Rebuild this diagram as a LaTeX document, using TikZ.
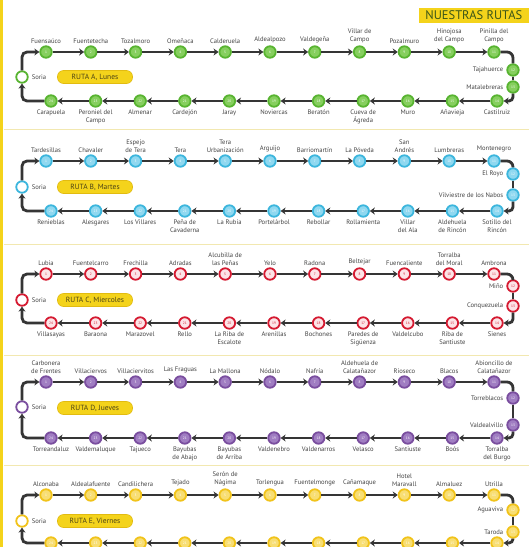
\documentclass[tikz,border=0pt]{standalone}
\usepackage{fontspec}
\setmainfont{PT Sans}
\usetikzlibrary{arrows.meta}
\definecolor{trackc}{HTML}{353535}
\definecolor{labc}{HTML}{444444}
\definecolor{ylw}{HTML}{F4D31B}
\definecolor{ylwd}{HTML}{E2BB10}
\definecolor{sepc}{HTML}{F2E8B0}
\definecolor{hdrtext}{HTML}{3A5518}
\definecolor{pilltext}{HTML}{4A4216}
\colorlet{rc}{black}\colorlet{rci}{white}\colorlet{rcn}{white}

\newcommand{\myroute}[6]{%
  \node[soriastop] (#1s) at (22,#3) {};
  \node[lbl,anchor=west] (#1sl) at ([xshift=3pt]#1s.east) {Soria};
  \foreach \i in {1,...,11}{\node[stop] (#1t\i) at ({46+44.8*(\i-1)},#2) {\i};}
  \node[stop] (#1r1) at (513,#5) {12};
  \node[stop] (#1r2) at (513,#6) {13};
  \foreach \i in {1,...,11}{\pgfmathtruncatemacro\nn{25-\i}\node[stop] (#1b\i) at ({51+44.6*(\i-1)},#4) {\nn};}
  \draw[track,arr,rounded corners=5pt] (#1s.north) |- (#1t1.west);
  \foreach \i in {1,...,10}{\pgfmathtruncatemacro\j{\i+1}\draw[track,arr] (#1t\i) -- (#1t\j);}
  \draw[track,rounded corners=6pt] (#1t11.east) -| (#1r1.north);
  \draw[track] (#1r1) -- (#1r2);
  \draw[track,arr,rounded corners=4pt] (#1r2.south) |- (#1b11.east);
  \foreach \i in {1,...,10}{\pgfmathtruncatemacro\j{\i+1}\draw[track,arr] (#1b\j) -- (#1b\i);}
  \draw[track,arr,rounded corners=5pt] (#1b1.west) -| (#1s.south);
}
\newcommand{\toplabels}[2]{\foreach \txt [count=\i] in {#2}{\node[lbl,anchor=south] (#1tl\i) at ([yshift=2pt]#1t\i.north) {\txt};}}
\newcommand{\rightlabels}[2]{\foreach \txt [count=\i] in {#2}{\node[lbl,anchor=east] (#1rl\i) at ([xshift=-3pt]#1r\i.west) {\txt};}}
\newcommand{\botlabels}[2]{\foreach \txt [count=\i] in {#2}{\node[lbl,anchor=north] (#1bl\i) at ([yshift=-2pt]#1b\i.south) {\txt};}}

\begin{document}
\begin{tikzpicture}[x=1pt,y=-1pt,
  stop/.style={circle,minimum size=11.5pt,inner sep=0pt,line width=1.8pt,draw=rc,fill=rci,text=rcn,font=\fontsize{3.5}{3.5}\selectfont},
  soriastop/.style={circle,minimum size=11.5pt,inner sep=0pt,line width=1.8pt,draw=rc,fill=white},
  lbl/.style={font=\fontsize{6.6}{7.9}\selectfont,text=labc,align=center,inner sep=0pt},
  track/.style={draw=trackc,line width=2.8pt},
  arr/.style={-{Stealth[length=5pt,width=7pt]}},
  pill/.style={rounded corners=6pt,fill=ylw,draw=ylwd,line width=0.6pt,minimum width=75pt,minimum height=13pt,inner sep=1pt,font=\fontsize{7.5}{8}\selectfont,text=pilltext},
  sep/.style={draw=sepc,line width=0.9pt}]
\clip (0,0) rectangle (529,547);
\fill[white] (0,0) rectangle (529,547);
\fill[ylw] (0,0) rectangle (3,547);
\foreach \yy in {129,244,355,465}{\draw[sep] (4,\yy) -- (529,\yy);}
\node[fill=ylw,anchor=north east,minimum width=110pt,minimum height=15pt,inner sep=0pt,text=hdrtext,font=\fontsize{12.5}{13}\selectfont] (hdr) at (529,7.5) {NUESTRAS RUTAS};

% Route A
\definecolor{rc}{HTML}{58B431}\definecolor{rci}{HTML}{86CF5E}\colorlet{rcn}{white}
\myroute{A}{52}{77}{101}{70}{87}
\node[pill] (pillA) at (95,77) {RUTA A, Lunes};
\toplabels{A}{Fuensaúco,Fuentetecha,Tozalmoro,Omeñaca,Calderuela,Aldealpozo,Valdegeña,{Villar de\\Campo},Pozalmuro,{Hinojosa\\del Campo},{Pinilla del\\Campo}}
\rightlabels{A}{Tajahuerce,Matalebreras}
\botlabels{A}{Carapuela,{Peroniel del\\Campo},Almenar,Cardejón,Jaray,Noviercas,Beratón,{Cueva de\\Ágreda},Muro,Añavieja,Castilruiz}

% Route B
\definecolor{rc}{HTML}{3CB6DD}\definecolor{rci}{HTML}{8FD8F0}\colorlet{rcn}{white}
\myroute{B}{161}{187}{211}{174}{195}
\node[pill] (pillB) at (95,187) {RUTA B, Martes};
\toplabels{B}{Tardesillas,Chavaler,{Espejo\\de Tera},Tera,{Tera\\Urbanización},Arguijo,Barriomartín,La Póveda,{San\\Andrés},Lumbreras,Montenegro}
\rightlabels{B}{El Royo,Vilviestre de los Nabos}
\botlabels{B}{Renieblas,Alesgares,Los Villares,{Peña de\\Cavaderna},La Rubia,Portelárbol,Rebollar,Rollamienta,{Villar\\del Ala},{Aldehuela\\de Rincón},{Sotillo del\\Rincón}}

% Route C
\definecolor{rc}{HTML}{D51A31}\definecolor{rci}{HTML}{FCE4E7}\definecolor{rcn}{HTML}{D51A31}
\myroute{C}{274}{300}{323}{286}{306}
\node[pill] (pillC) at (95,300) {RUTA C, Miercoles};
\toplabels{C}{Lubia,Fuentelcarro,Frechilla,Adradas,{Alcubilla de\\las Peñas},Yelo,Radona,Beltejar,Fuencaliente,{Torralba\\del Moral},Ambrona}
\rightlabels{C}{Miño,Conquezuela}
\botlabels{C}{Villasayas,Baraona,Marazovel,Rello,{La Riba de\\Escalote},Arenillas,Bochones,{Paredes de\\Sigüenza},Valdelcubo,{Riba de\\Santiuste},Sienes}

% Route D
\definecolor{rc}{HTML}{7A4E9F}\definecolor{rci}{HTML}{A07DC2}\colorlet{rcn}{white}
\myroute{D}{382}{407}{438}{398}{425}
\node[pill] (pillD) at (95,408) {RUTA D, Jueves};
\toplabels{D}{{Carbonera\\de Frentes},Villaciervos,Villaciervitos,Las Fraguas,La Mallona,Nódalo,Nafría,{Aldehuela de\\Calatañazor},Rioseco,Blacos,{Abioncillo de\\Calatañazor}}
\rightlabels{D}{Torreblacos,Valdealvillo}
\botlabels{D}{Torreandaluz,Valdemaluque,Tajueco,{Bayubas\\de Abajo},{Bayubas\\de Arriba},Valdenebro,Valdenarros,Velasco,Santiuste,Boós,{Torralba\\del Burgo}}

% Route E
\definecolor{rc}{HTML}{F1C31A}\definecolor{rci}{HTML}{F8DE73}\colorlet{rcn}{white}
\myroute{E}{495}{521}{543}{510}{532}
\node[pill] (pillE) at (95,521) {RUTA E, Viernes};
\toplabels{E}{Alconaba,Aldealafuente,Candilichera,Tejado,{Serón de\\Nágima},Torlengua,Fuentelmonge,Cañamaque,{Hotel\\Maravall},Almaluez,Utrilla}
\rightlabels{E}{Aguaviva,Taroda}
\end{tikzpicture}
\end{document}
